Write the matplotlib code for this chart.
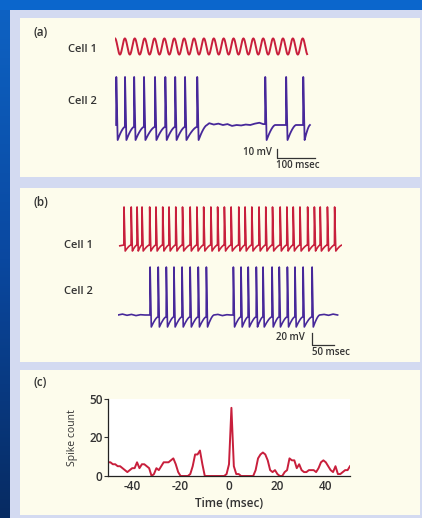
import numpy as np
import matplotlib
matplotlib.use("Agg")
import matplotlib.pyplot as plt
from matplotlib.patches import Rectangle

plt.rcParams['font.family'] = ['Open Sans', 'DejaVu Sans']
plt.rcParams['axes.unicode_minus'] = False

W, H = 422, 518
RED = '#c81f3c'
PURPLE = '#47289a'
TXT = '#333333'
CREAM = '#fdfcec'
LAV = '#d3daf1'

# ---- panel (a): cell 1 oscillation, extrema times (ms) ----
a1_peak_t = [0, 26, 52, 78, 104, 130, 156, 182, 208, 234, 260, 286, 312, 338, 364, 390, 416, 442, 468, 494]
a1_peak_v = -51
a1_trough_v = -69
a1_end = 514

# panel (a): cell 2 spike times (ms)
a2_spikes = [3, 26, 50, 76, 105, 132, 158, 184, 216, 395, 450, 495]
a2_end = 513
a2_quiet_t = [236, 248, 260, 272, 284, 296, 308, 320, 332, 344, 356, 368, 380, 390]
a2_quiet_v = [-59, -58, -59.5, -58.5, -60, -59, -61, -60, -60.5, -59.5, -60, -58.5, -57.5, -59]

# ---- panel (b) ----
b1_spikes = [13, 29, 42, 53, 70, 84, 99, 113, 128, 143, 160, 175, 190, 206, 221, 236,
             251, 268, 282, 297, 313, 328, 343, 360, 375, 389, 404, 421, 436, 449, 465, 481]
b1_end = 498
b2_spikes = [71, 89, 107, 124, 142, 160, 178, 196,
             256, 273, 289, 307, 322, 342, 358, 376, 393, 411, 431]
b2_end = 498
b2_quiet_t = [0, 10, 20, 30, 40, 50, 60, 66, 212, 222, 232, 242, 250, 448, 458, 468, 478, 488, 498]
b2_quiet_v = [-60, -58.5, -60.5, -59, -61, -59.5, -60, -60, -60, -59, -61, -59.5, -60, -60, -59, -60.5, -58.5, -60, -59.5]

# ---- panel (c): cross-correlogram ----
lag_ms = list(range(-50, 51))
spike_count = [7, 7, 6, 6, 5, 5, 4, 3, 2, 3,
               4, 4, 7, 4, 6, 6, 5, 4, 0, 1,
               4, 3, 5, 7, 7, 7, 8, 9, 6, 2,
               0, 0, 0, 0, 1, 5, 11, 11, 13, 6,
               0, 0, 0, 0, 0, 0, 0, 0, 0, 1,
               6, 43, 5, 1, 1, 0, 0, 0, 0, 0,
               0, 3, 9, 11, 12, 11, 8, 3, 2, 3,
               1, 0, 0, 2, 3, 9, 8, 8, 4, 6,
               3, 2, 2, 3, 3, 3, 2, 4, 7, 8,
               7, 5, 3, 2, 5, 1, 1, 2, 3, 3,
               5]


def fax(x0, y0, x1, y1, **kw):
    return fig.add_axes([x0 / W, 1 - y1 / H, (x1 - x0) / W, (y1 - y0) / H], **kw)


def smooth_wave(times, vhi, vlo, end):
    ext_t, ext_v = [], []
    for i, t in enumerate(times):
        ext_t.append(t)
        ext_v.append(vhi)
        nxt = times[i + 1] if i + 1 < len(times) else t + (times[1] - times[0])
        ext_t.append((t + nxt) / 2)
        ext_v.append(vlo)
    tt, vv = [], []
    for i in range(len(ext_t) - 1):
        u = np.linspace(0, 1, 10)[:-1]
        tt.extend(ext_t[i] + (ext_t[i + 1] - ext_t[i]) * u)
        vv.extend(ext_v[i] + (ext_v[i + 1] - ext_v[i]) * (1 - np.cos(np.pi * u)) / 2)
    tt, vv = np.array(tt), np.array(vv)
    keep = tt <= end
    return tt[keep], vv[keep]


def spike_train(spikes, end, peak, trough, thr, base, fall, recover, qt=(), qv=()):
    tt, vv = [], []
    qt, qv = list(qt), list(qv)
    pre = [(t, v) for t, v in zip(qt, qv) if t < spikes[0]]
    for t, v in pre:
        tt.append(t); vv.append(v)
    for i, ts in enumerate(spikes):
        nxt = spikes[i + 1] if i + 1 < len(spikes) else end
        burst = (nxt - ts) < recover * 1.6 and i + 1 < len(spikes)
        start_v = vv[-1] if vv else base
        tt += [ts, ts + 0.4, ts + fall]
        vv += [start_v, peak, trough]
        target = thr if burst else base
        r_end = nxt if burst else min(ts + fall + recover, nxt)
        for s in np.linspace(0, 1, 8)[1:]:
            tt.append(ts + fall + (r_end - ts - fall) * s)
            vv.append(trough + (target - trough) * (1 - (1 - s) ** 1.5))
        for t, v in zip(qt, qv):
            if r_end < t < nxt:
                tt.append(t); vv.append(v)
    return np.array(tt), np.array(vv)


fig = plt.figure(figsize=(W / 100, H / 100), dpi=100)

# background
bg = fig.add_axes([0, 0, 1, 1])
bg.set_xlim(0, W)
bg.set_ylim(H, 0)
bg.axis('off')
grad = np.linspace(0, 1, 256)[:, None]
cmap = matplotlib.colors.LinearSegmentedColormap.from_list('bg', ['#0e63c4', '#0a48a0', '#072b62'])
bg.imshow(grad, cmap=cmap, aspect='auto', extent=(0, W, H, 0))
bg.add_patch(Rectangle((0, 0), W, 10, color='#0b66cc', lw=0))
bg.add_patch(Rectangle((10, 10), W - 10, H - 10, color=LAV, lw=0))
for y0, y1 in [(18, 177), (188, 362), (370, 515)]:
    bg.add_patch(Rectangle((20, y0), 400, y1 - y0, color=CREAM, lw=0))

for txt, x, y in [('(a)', 34, 32), ('(b)', 34, 202), ('(c)', 34, 383)]:
    bg.text(x, y, txt, fontsize=8.5, color=TXT, va='center', ha='left', fontweight='semibold')
for txt, x, y in [('Cell 1', 68, 50), ('Cell 2', 68, 102), ('Cell 1', 64, 246), ('Cell 2', 64, 292)]:
    bg.text(x, y, txt, fontsize=8, color=TXT, va='center', ha='left', fontweight='semibold')

# panel (a)
px_a, mv_a = 0.38, 1.11
ax = fax(115, 34, 312, 60)
t, v = smooth_wave(a1_peak_t, a1_peak_v, a1_trough_v, a1_end)
ax.plot(t, v, color=RED, lw=1.4)
ax.set_xlim(0, 197 / px_a)
ax.set_ylim(-60 - 13.5 * mv_a, -60 + 12.5 * mv_a)
ax.axis('off')

ax = fax(115, 70, 312, 168)
t, v = spike_train(a2_spikes, a2_end, peak=-6.7, trough=-76.7, thr=-62, base=-60,
                   fall=4, recover=22, qt=a2_quiet_t, qv=a2_quiet_v)
ax.plot(t, v, color=PURPLE, lw=1.3)
ax.set_xlim(0, 197 / px_a)
ax.set_ylim(-60 - 43 * mv_a, -60 + 55 * mv_a)
ax.axis('off')
ax.plot([426, 426, 526], [-86.7, -96.7, -96.7], color=TXT, lw=0.9, clip_on=False)
ax.text(412, -91, '10 mV', fontsize=7, color=TXT, ha='right', va='center', fontweight='semibold')
ax.text(482, -105, '100 msec', fontsize=7, color=TXT, ha='center', va='center', fontweight='semibold')

# panel (b)
px_b, mv_b = 0.45, 1.67
ax = fax(118, 200, 342, 256)
t, v = spike_train(b1_spikes, b1_end, peak=6.8, trough=-66.7, thr=-56.7, base=-56.7,
                   fall=3, recover=14)
t = np.concatenate([[4], t])
v = np.concatenate([[-58], v])
ax.plot(t, v, color=RED, lw=1.2)
ax.set_xlim(0, 224 / px_b)
ax.set_ylim(-60 - 9 * mv_b, -60 + 47 * mv_b)
ax.axis('off')

ax = fax(118, 260, 342, 356)
t, v = spike_train(b2_spikes, b2_end, peak=20, trough=-80, thr=-63, base=-60,
                   fall=3, recover=14, qt=b2_quiet_t, qv=b2_quiet_v)
ax.plot(t, v, color=PURPLE, lw=1.2)
ax.set_xlim(0, 224 / px_b)
ax.set_ylim(-60 - 41 * mv_b, -60 + 55 * mv_b)
ax.axis('off')
ax.plot([431, 431, 480], [-90, -110, -110], color=TXT, lw=0.9, clip_on=False)
ax.text(416, -98, '20 mV', fontsize=7, color=TXT, ha='right', va='center', fontweight='semibold')
ax.text(473, -123, '50 msec', fontsize=7, color=TXT, ha='center', va='center', fontweight='semibold')

# panel (c)
k = 37.0 / 38.3 * 20 / 30


def fwd(y):
    y = np.asarray(y, dtype=float)
    return np.where(y <= 20, y, 20 + (y - 20) * k)


def inv(y):
    y = np.asarray(y, dtype=float)
    return np.where(y <= 20, y, 20 + (y - 20) / k)


ax = fax(108, 399, 350, 476)
ax.set_facecolor('white')
ax.plot(lag_ms, spike_count, color=RED, lw=1.4)
ax.set_yscale('function', functions=(fwd, inv))
ax.set_xlim(-50, 50)
ax.set_ylim(0, 50)
ax.set_yticks([0, 20, 50])
ax.set_xticks([-40, -20, 0, 20, 40])
for s in ['top', 'right']:
    ax.spines[s].set_visible(False)
for s in ['left', 'bottom']:
    ax.spines[s].set_linewidth(0.9)
    ax.spines[s].set_color('#222222')
ax.tick_params(axis='y', length=3, width=0.8, labelsize=8.5, colors=TXT, pad=1)
ax.tick_params(axis='x', length=0, labelsize=8.5, colors=TXT, pad=3)
ax.set_ylabel('Spike count', fontsize=7.5, color=TXT, labelpad=8)
ax.set_xlabel('Time (msec)', fontsize=8.5, color=TXT, labelpad=3, fontweight='semibold')
for lbl in ax.get_xticklabels() + ax.get_yticklabels():
    lbl.set_fontweight('semibold')

fig.savefig('out.png', dpi=100)
